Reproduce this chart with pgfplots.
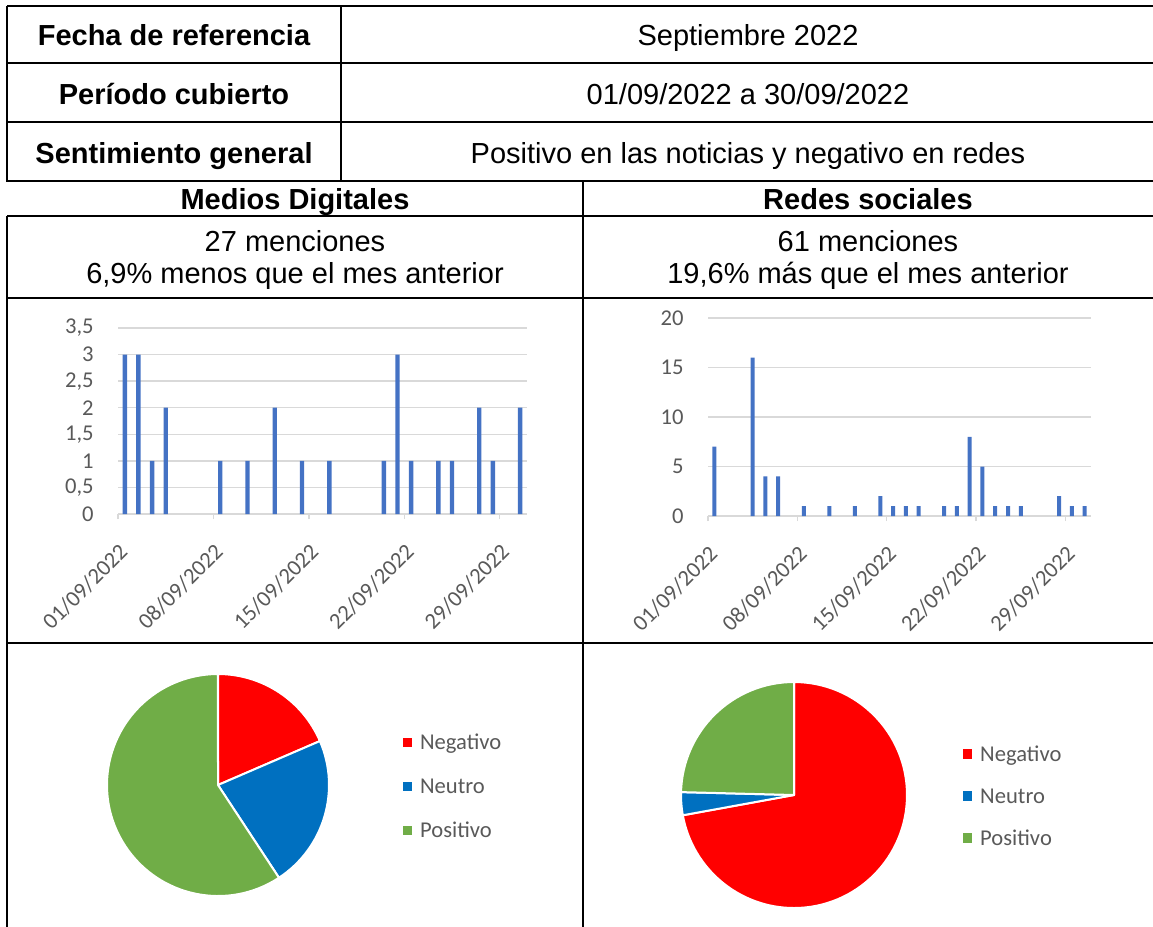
\documentclass[border=0pt]{standalone}
\usepackage{fontspec}
\setmainfont{Liberation Sans}
\newfontfamily\calibri{Carlito}
\usepackage{pgfplots}
\pgfplotsset{compat=1.18}
\definecolor{barblue}{HTML}{4472C4}
\definecolor{gridgray}{HTML}{D9D9D9}
\definecolor{txtgray}{HTML}{595959}
\definecolor{pred}{HTML}{FF0000}
\definecolor{pblue}{HTML}{0070C0}
\definecolor{pgreen}{HTML}{70AD47}

\pgfplotsset{
  barchart/.style={
    anchor=south west, scale only axis,
    axis x line*=bottom, axis y line*=left,
    y axis line style={draw=none},
    x axis line style={gridgray, line width=0.75pt},
    xmin=0.5, xmax=30.5, ymin=0,
    xtick={0.5,7.5,14.5,21.5,28.5},
    xticklabels={01/09/2022,08/09/2022,15/09/2022,22/09/2022,29/09/2022},
    tick align=outside,
    x tick style={gridgray, line width=0.75pt},
    major tick length=2.5pt,
    y tick style={draw=none},
    ymajorgrids, grid style={gridgray, line width=0.75pt},
    ticklabel style={font=\calibri\fontsize{11.3}{13}\selectfont, text=txtgray},
    yticklabel style={anchor=east, inner sep=0pt, xshift=-9.5pt},
    xticklabel style={rotate=45, anchor=north east, inner sep=0pt, yshift=-8pt, xshift=-8.2pt},
  },
  piechart/.style={
    anchor=south west, scale only axis, hide axis,
    xmin=-1, xmax=1, ymin=-1, ymax=1,
    legend cell align=left,
  },
}

% values
\def\negA{5}\def\neuA{6}\def\posA{16}
\def\negB{44}\def\neuB{2}\def\posB{15}

\begin{document}
\begin{tikzpicture}
\useasboundingbox (0,0) rectangle (576.5pt,-463.5pt);
\begin{scope}[x=0.5pt,y=-0.5pt]
\begin{scope}[line width=1.1pt]
\draw (7,6) -- (1153,6);
\draw (7,63) -- (1153,63);
\draw (7,122) -- (1153,122);
\draw (7,181) -- (1153,181);
\draw (7,216) -- (1153,216);
\draw (7,298) -- (1153,298);
\draw (7,643) -- (1153,643);
\draw (7,5.5) -- (7,181.5);
\draw (341,6) -- (341,181);
\draw (7,215.5) -- (7,927);
\draw (583,181) -- (583,927);
\end{scope}
\tikzset{tt/.style={anchor=base, inner sep=0pt, font=\fontsize{14.5}{17}\selectfont}}
\node[tt, font=\bfseries\fontsize{14.5}{17}\selectfont] at (174,45) {Fecha de referencia};
\node[tt, font=\bfseries\fontsize{14.5}{17}\selectfont] at (174,104) {Período cubierto};
\node[tt, font=\bfseries\fontsize{14.5}{17}\selectfont] at (174,163) {Sentimiento general};
\node[tt] at (748,45) {Septiembre 2022};
\node[tt] at (748,104) {01/09/2022 a 30/09/2022};
\node[tt] at (748,163) {Positivo en las noticias y negativo en redes};
\node[tt, font=\bfseries\fontsize{14.5}{17}\selectfont] at (295,209) {Medios Digitales};
\node[tt, font=\bfseries\fontsize{14.5}{17}\selectfont] at (868,209) {Redes sociales};
\node[tt] at (295,251) {27 menciones};
\node[tt] at (295,283) {6,9\% menos que el mes anterior};
\node[tt] at (868,251) {61 menciones};
\node[tt] at (868,283) {19,6\% más que el mes anterior};
\end{scope}

% Bar chart: Medios Digitales
\begin{axis}[barchart, at={(59pt,-257pt)}, width=204.5pt, height=93pt,
  ymax=3.5, ytick={0,0.5,1,1.5,2,2.5,3,3.5},
  yticklabels={0,{0,5},1,{1,5},2,{2,5},3,{3,5}}]
\addplot[ybar, bar shift=0pt, bar width=2.2pt, fill=barblue, draw=none] coordinates {
(1,3) (2,3) (3,1) (4,2) (8,1) (10,1) (12,2) (14,1) (16,1) (20,1)
(21,3) (22,1) (24,1) (25,1) (27,2) (28,1) (30,2)};
\end{axis}

% Bar chart: Redes sociales
\begin{axis}[barchart, at={(354pt,-258pt)}, width=191.5pt, height=99pt,
  ymax=20, ytick={0,5,10,15,20},
  yticklabels={0,5,10,15,20}]
\addplot[ybar, bar shift=0pt, bar width=2pt, fill=barblue, draw=none] coordinates {
(1,7) (4,16) (5,4) (6,4) (8,1) (10,1) (12,1) (14,2) (15,1) (16,1) (17,1)
(19,1) (20,1) (21,8) (22,5) (23,1) (24,1) (25,1) (28,2) (29,1) (30,1)};
\end{axis}

% Pie angles
\pgfmathsetmacro{\totA}{\negA+\neuA+\posA}
\pgfmathsetmacro{\aA}{90-360*\negA/\totA}
\pgfmathsetmacro{\bA}{\aA-360*\neuA/\totA}
\pgfmathsetmacro{\totB}{\negB+\neuB+\posB}
\pgfmathsetmacro{\aB}{90-360*\negB/\totB}
\pgfmathsetmacro{\bB}{\aB-360*\neuB/\totB}

% Pie: Medios Digitales
\begin{axis}[piechart, at={(53.5pt,-448pt)}, width=111pt, height=111pt,
  legend style={at={(1.333,0.495)}, anchor=west, draw=none, fill=none,
    inner sep=0pt, outer sep=0pt, row sep=14.6pt, column sep=4pt,
    nodes={inner sep=0pt, text height=7.4pt, text depth=0pt, text=txtgray,
      font=\calibri\fontsize{11.3}{13}\selectfont}}]
\filldraw[fill=pred, draw=white, line width=1pt, line join=round] (axis cs:0,0) -- (axis cs:0,1) arc[start angle=90, end angle=\aA, radius=55.5pt] -- cycle;
\filldraw[fill=pblue, draw=white, line width=1pt, line join=round] (axis cs:0,0) -- (axis cs:{cos(\aA)},{sin(\aA)}) arc[start angle=\aA, end angle=\bA, radius=55.5pt] -- cycle;
\filldraw[fill=pgreen, draw=white, line width=1pt, line join=round] (axis cs:0,0) -- (axis cs:{cos(\bA)},{sin(\bA)}) arc[start angle=\bA, end angle=-270, radius=55.5pt] -- cycle;
\addlegendimage{legend image code/.code={\fill[pred] (0pt,-2.1pt) rectangle (4.2pt,2.1pt);}}
\addlegendimage{legend image code/.code={\fill[pblue] (0pt,-2.1pt) rectangle (4.2pt,2.1pt);}}
\addlegendimage{legend image code/.code={\fill[pgreen] (0pt,-2.1pt) rectangle (4.2pt,2.1pt);}}
\legend{Negativo,Neutro,Positivo}
\end{axis}

% Pie: Redes sociales
\begin{axis}[piechart, at={(340.5pt,-454pt)}, width=113pt, height=113pt,
  legend style={at={(1.248,0.496)}, anchor=west, draw=none, fill=none,
    inner sep=0pt, outer sep=0pt, row sep=13.6pt, column sep=4pt,
    nodes={inner sep=0pt, text height=7.4pt, text depth=0pt, text=txtgray,
      font=\calibri\fontsize{11.3}{13}\selectfont}}]
\filldraw[fill=pred, draw=white, line width=1pt, line join=round] (axis cs:0,0) -- (axis cs:0,1) arc[start angle=90, end angle=\aB, radius=56.5pt] -- cycle;
\filldraw[fill=pblue, draw=white, line width=1pt, line join=round] (axis cs:0,0) -- (axis cs:{cos(\aB)},{sin(\aB)}) arc[start angle=\aB, end angle=\bB, radius=56.5pt] -- cycle;
\filldraw[fill=pgreen, draw=white, line width=1pt, line join=round] (axis cs:0,0) -- (axis cs:{cos(\bB)},{sin(\bB)}) arc[start angle=\bB, end angle=-270, radius=56.5pt] -- cycle;
\addlegendimage{legend image code/.code={\fill[pred] (0pt,-2.1pt) rectangle (4.2pt,2.1pt);}}
\addlegendimage{legend image code/.code={\fill[pblue] (0pt,-2.1pt) rectangle (4.2pt,2.1pt);}}
\addlegendimage{legend image code/.code={\fill[pgreen] (0pt,-2.1pt) rectangle (4.2pt,2.1pt);}}
\legend{Negativo,Neutro,Positivo}
\end{axis}
\end{tikzpicture}
\end{document}
